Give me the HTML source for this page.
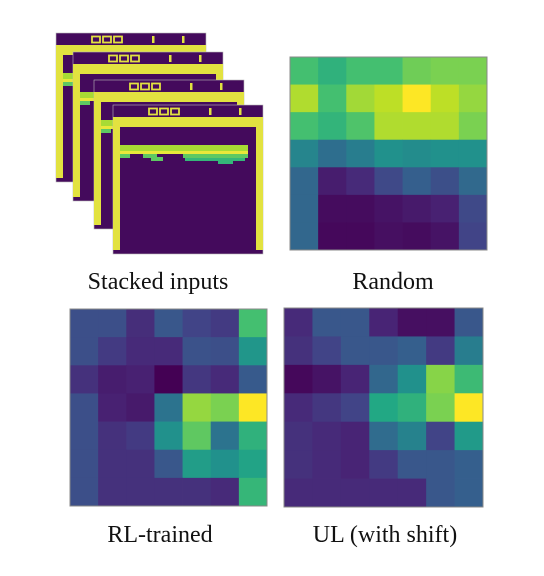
<!DOCTYPE html>
<html><head><meta charset="utf-8"><style>
html,body{margin:0;padding:0;background:#fff;}
svg{display:block;}
text{font-family:"Liberation Serif",serif;font-size:24px;fill:#111;}
</style></head><body>
<svg id="fig" width="544" height="576" viewBox="0 0 544 576">
<g id="frames"></g>
<g id="hm"></g>
<text x="158" y="289" text-anchor="middle">Stacked inputs</text>
<text x="393" y="289" text-anchor="middle">Random</text>
<text x="160" y="542" text-anchor="middle">RL-trained</text>
<text x="385" y="542" text-anchor="middle">UL (with shift)</text>
</svg>
<script>
const randomVals=[
[.7,.64,.7,.7,.78,.8,.8],
[.88,.7,.86,.9,1.0,.9,.84],
[.7,.65,.72,.88,.88,.88,.8],
[.45,.36,.42,.5,.48,.5,.5],
[.33,.08,.12,.22,.3,.24,.34],
[.33,.03,.03,.05,.07,.09,.22],
[.33,.02,.02,.04,.03,.05,.2]];
const rlVals=[
[.24,.24,.13,.27,.2,.17,.7],
[.24,.17,.12,.12,.25,.24,.52],
[.14,.08,.09,.0,.16,.12,.28],
[.24,.09,.07,.38,.84,.8,1.0],
[.24,.14,.17,.5,.75,.38,.64],
[.24,.14,.14,.27,.55,.5,.58],
[.24,.14,.14,.14,.14,.12,.66]];
const ulVals=[
[.12,.27,.27,.1,.04,.04,.27],
[.14,.2,.27,.27,.3,.17,.42],
[.02,.05,.1,.33,.5,.82,.68],
[.12,.16,.2,.6,.64,.8,1.0],
[.14,.12,.1,.35,.44,.2,.54],
[.14,.12,.1,.17,.27,.27,.3],
[.12,.12,.12,.12,.12,.27,.3]];
const NS="http://www.w3.org/2000/svg";
const vir=[[68,1,84],[72,36,117],[65,68,135],[53,95,141],[42,120,142],[33,145,140],[34,168,132],[68,191,112],[122,209,81],[189,223,38],[253,231,37]];
function viridis(v){v=Math.max(0,Math.min(1,v));const p=v*10,i=Math.min(9,Math.floor(p)),f=p-i;const a=vir[i],b=vir[i+1];
return `rgb(${a.map((c,k)=>Math.round(c+(b[k]-c)*f)).join(',')})`;}
function mk(tag,attrs,parent){const e=document.createElementNS(NS,tag);for(const k in attrs)e.setAttribute(k,attrs[k]);parent.appendChild(e);return e;}
const hm=document.getElementById('hm');
function heat(vals,x0,y0,w,h,name){
  const g=mk('g',{},hm);
  
  
  const cw=w/7,ch=h/7;
  vals.forEach((row,r)=>row.forEach((v,c)=>{
    const rc=mk('rect',{x:x0+c*cw,y:y0+r*ch,width:cw+0.4,height:ch+0.4,fill:viridis(v)},g);
    
    
  }));
  const b=mk('rect',{x:x0,y:y0,width:w,height:h,fill:'none',stroke:'#888','stroke-width':1},g);
  
  
}
heat(randomVals,290,57,197,193,'random-heatmap');
heat(rlVals,70,309,197,197,'rl-trained-heatmap');
heat(ulVals,284,308,199,199,'ul-heatmap');
const Y='#e2e240',P='#440a5c';
const fr=document.getElementById('frames');
const pos=[[56,33],[73,52],[94,80],[113,105]];
pos.forEach((p,i)=>{
  const g=mk('g',{transform:`translate(${p[0]},${p[1]})`},fr);
  
  
  mk('rect',{x:0,y:0,width:150,height:149,fill:P,stroke:'#bbb','stroke-width':0.6},g);
  mk('rect',{x:0,y:12,width:150,height:10,fill:Y},g);
  mk('rect',{x:0,y:12,width:7,height:133,fill:Y},g);
  mk('rect',{x:143,y:12,width:7,height:133,fill:Y},g);
  [36,47,58].forEach(x=>mk('rect',{x:x,y:3.5,width:8,height:6,fill:'none',stroke:Y,'stroke-width':1.8},g));
  mk('rect',{x:96,y:3,width:2.5,height:7,fill:Y},g);
  mk('rect',{x:126,y:3,width:2.5,height:7,fill:Y},g);
  mk('rect',{x:7,y:40,width:128,height:6,fill:'#a8db34'},g);
  mk('rect',{x:7,y:46,width:128,height:3,fill:'#e8e83a'},g);
  [[7,49,10],[30,49,14],[38,52,12],[70,49,65]].forEach(q=>mk('rect',{x:q[0],y:q[1],width:q[2],height:4,fill:'#5ec962'},g));
  [[72,53,60]].forEach(q=>mk('rect',{x:q[0],y:q[1],width:q[2],height:3,fill:'#35b779'},g));
  mk('rect',{x:105,y:56,width:15,height:3,fill:'#35b779'},g);
});
</script>
</body></html>
